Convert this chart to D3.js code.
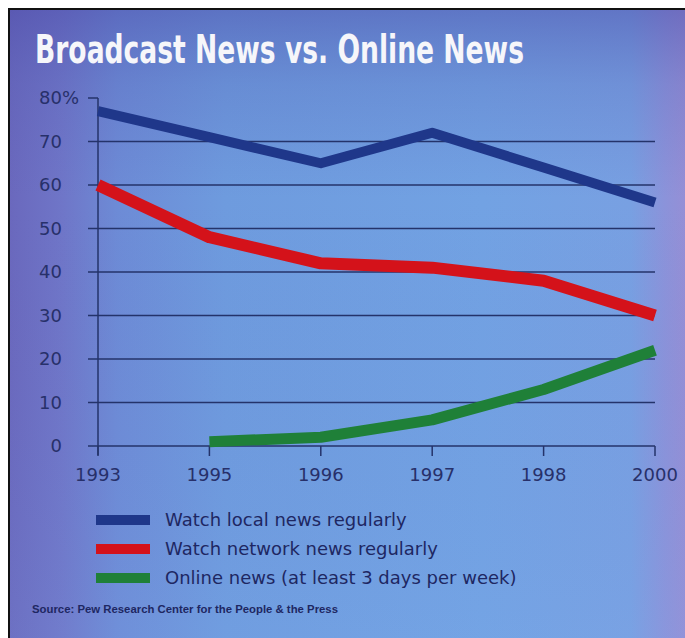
<!DOCTYPE html>
<html>
<head>
<meta charset="utf-8">
<script src="https://cdn.jsdelivr.net/npm/d3@7"></script>
<style>
  html, body { margin: 0; padding: 0; background: #ffffff; }
  svg { display: block; }
</style>
</head>
<body>
<svg id="chart" width="685" height="638"></svg>
<script>
// Survey years (equally spaced categories) and share of adults, in percent
const years = ["1993", "1995", "1996", "1997", "1998", "2000"];
const localNews   = [77, 71, 65, 72, 64, 56];
const networkNews = [60, 48, 42, 41, 38, 30];
const onlineNews  = [null, 1, 2, 6, 13, 22];
const yTicks = [0, 10, 20, 30, 40, 50, 60, 70, 80];
const seriesNames = [
  "Watch local news regularly",
  "Watch network news regularly",
  "Online news (at least 3 days per week)"
];

const W = 685, H = 638;
const svg = d3.select("#chart");
const defs = svg.append("defs");

// Panel background: lavender edges, lighter blue centre, darker top
const gx = defs.append("linearGradient").attr("id", "bgx")
  .attr("x1", "0").attr("y1", "0").attr("x2", "1").attr("y2", "0");
[["0%", "#6a68bd"], ["8%", "#6f76c8"], ["16%", "#6d8bd6"], ["32%", "#6e9bde"],
 ["70%", "#72a2e3"], ["92%", "#78a0e2"], ["97%", "#8b93da"], ["100%", "#958fd6"]]
  .forEach(([o, c]) => gx.append("stop").attr("offset", o).attr("stop-color", c));

const gy = defs.append("linearGradient").attr("id", "bgy")
  .attr("x1", "0").attr("y1", "0").attr("x2", "0").attr("y2", "1");
[["0%", "#4a4aa8", 0.5], ["12%", "#5058b0", 0.22], ["30%", "#5a60b8", 0.0], ["100%", "#80b0f0", 0.12]]
  .forEach(([o, c, a]) => gy.append("stop").attr("offset", o).attr("stop-color", c).attr("stop-opacity", a));

svg.append("rect").attr("x", 9).attr("y", 9).attr("width", W - 9).attr("height", H - 9)
  .attr("fill", "url(#bgx)");
svg.append("rect").attr("x", 9).attr("y", 9).attr("width", W - 9).attr("height", H - 9)
  .attr("fill", "url(#bgy)");

// Black frame along the top and left edges
svg.append("path").attr("d", `M9,${H} V9 H${W}`)
  .attr("fill", "none").attr("stroke", "#111").attr("stroke-width", 2);

// Title
svg.append("text")
  .attr("x", 35).attr("y", 63)
  .attr("font-family", "'Liberation Sans Narrow', 'DejaVu Sans Condensed', 'Liberation Sans', sans-serif")
  .attr("font-weight", "bold")
  .attr("font-size", 39)
  .attr("fill", "#f6f6fa")
  .attr("textLength", 489).attr("lengthAdjust", "spacingAndGlyphs")
  .text("Broadcast News vs. Online News");

// Scales
const x = d3.scalePoint().domain(years).range([98, 655]);
const y = d3.scaleLinear().domain([0, 80]).range([446, 98]);

const ink = "#27306a";
const axisFont = "'DejaVu Sans', 'Liberation Sans', sans-serif";

// Horizontal gridlines (the 80% level only gets a tick)
const grid = svg.append("g");
grid.selectAll("line").data(yTicks).join("line")
  .attr("x1", 88)
  .attr("x2", d => d === 80 ? 98 : 655)
  .attr("y1", d => y(d)).attr("y2", d => y(d))
  .attr("stroke", "#24336a").attr("stroke-width", 1.5);

// Vertical axis line
svg.append("line")
  .attr("x1", 98).attr("x2", 98).attr("y1", y(80)).attr("y2", y(0) + 9)
  .attr("stroke", "#24336a").attr("stroke-width", 1.5);

// X tick marks below the baseline
svg.append("g").selectAll("line").data(years).join("line")
  .attr("x1", d => x(d)).attr("x2", d => x(d))
  .attr("y1", y(0)).attr("y2", y(0) + 10)
  .attr("stroke", "#24336a").attr("stroke-width", 1.5);

// Y tick labels
const yl = svg.append("g")
  .attr("font-family", axisFont).attr("font-size", 18).attr("fill", ink);
yl.selectAll("text").data(yTicks).join("text")
  .attr("x", 62).attr("y", d => y(d))
  .attr("dy", "0.36em")
  .attr("text-anchor", "end")
  .text(d => d);
yl.append("text")
  .attr("x", 62).attr("y", y(80)).attr("dy", "0.36em")
  .text("%");

// X tick labels
svg.append("g")
  .attr("font-family", axisFont).attr("font-size", 18).attr("fill", ink)
  .selectAll("text").data(years).join("text")
  .attr("x", d => x(d)).attr("y", 481)
  .attr("text-anchor", "middle")
  .text(d => d);

// Series lines
const colors = ["#1f378a", "#d4121a", "#1f8038"];
const widths = [10, 12, 11];
const series = [localNews, networkNews, onlineNews];
const line = d3.line()
  .defined(d => d.v !== null)
  .x(d => x(d.year))
  .y(d => y(d.v));

series.forEach((vals, i) => {
  const pts = years.map((yr, j) => ({ year: yr, v: vals[j] }));
  svg.append("path")
    .datum(pts)
    .attr("d", line)
    .attr("fill", "none")
    .attr("stroke", colors[i])
    .attr("stroke-width", widths[i])
    .attr("stroke-linejoin", "round")
    .attr("stroke-linecap", "butt");
});

// Legend
const legendY = [520, 549, 578];
const lg = svg.append("g");
seriesNames.forEach((name, i) => {
  lg.append("rect")
    .attr("x", 96).attr("y", legendY[i] - 5)
    .attr("width", 54).attr("height", 10)
    .attr("fill", colors[i]);
  lg.append("text")
    .attr("x", 165).attr("y", legendY[i] + 6)
    .attr("font-family", axisFont).attr("font-size", 18)
    .attr("fill", "#1e2762")
    .text(name);
});

// Source line
svg.append("text")
  .attr("x", 32).attr("y", 613)
  .attr("font-family", "'Liberation Sans Narrow', 'Liberation Sans', sans-serif")
  .attr("font-size", 10).attr("font-weight", "bold")
  .attr("fill", "#1e2762")
  .attr("textLength", 306).attr("lengthAdjust", "spacingAndGlyphs")
  .text("Source: Pew Research Center for the People & the Press");
</script>
</body>
</html>
